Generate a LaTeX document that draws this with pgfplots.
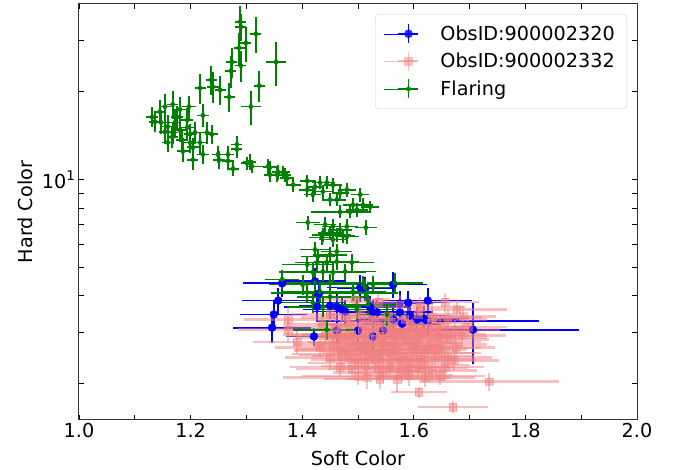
\documentclass[border=0pt]{standalone}
\usepackage{pgfplots}
\pgfplotsset{compat=1.18}
\usepackage{pgfplotstable}
\usepackage{fontspec}
\setmainfont{DejaVu Sans}
\definecolor{lightcoral}{RGB}{240,128,128}
\definecolor{mplgreen}{RGB}{0,128,0}
\definecolor{mplblue}{RGB}{0,0,255}

% ObsID 900002320
\pgfplotstableread{
x y ex ey
1.364 4.41 0.070 0.45
1.357 3.85 0.065 0.40
1.349 3.45 0.060 0.40
1.346 3.11 0.070 0.35
1.421 2.90 0.050 0.20
1.430 4.07 0.060 0.45
1.423 4.48 0.055 0.50
1.427 3.67 0.060 0.40
1.450 3.70 0.055 0.35
1.462 3.67 0.060 0.40
1.471 3.59 0.070 0.35
1.477 3.53 0.060 0.35
1.500 3.04 0.060 0.30
1.462 3.04 0.050 0.30
1.504 4.27 0.060 0.45
1.522 3.65 0.070 0.35
1.527 3.51 0.060 0.35
1.534 3.51 0.055 0.35
1.563 4.37 0.060 0.45
1.575 3.76 0.060 0.40
1.590 3.79 0.070 0.35
1.625 3.85 0.080 0.40
1.593 3.42 0.065 0.35
1.618 3.34 0.080 0.35
1.625 3.27 0.200 0.35
1.706 3.06 0.190 0.72
1.545 3.04 0.060 0.30
1.575 3.51 0.060 0.35
1.563 3.32 0.065 0.35
1.579 3.21 0.070 0.30
1.606 3.32 0.075 0.35
1.527 2.90 0.060 0.30
1.513 4.24 0.050 0.40
}\tblue

% ObsID 900002332
\pgfplotstableread{
x y ex ey
1.495 3.88 0.06 0.30
1.536 3.80 0.07 0.30
1.575 3.73 0.06 0.28
1.611 3.66 0.08 0.30
1.656 3.80 0.06 0.30
1.677 3.59 0.09 0.30
1.375 3.32 0.08 0.30
1.450 3.45 0.07 0.28
1.477 3.37 0.08 0.28
1.504 3.45 0.06 0.30
1.525 3.32 0.07 0.28
1.554 3.40 0.08 0.28
1.584 3.32 0.06 0.25
1.608 3.45 0.07 0.30
1.633 3.37 0.09 0.28
1.661 3.32 0.07 0.28
1.688 3.40 0.06 0.30
1.375 3.06 0.09 0.28
1.435 3.19 0.07 0.25
1.459 3.12 0.08 0.25
1.486 3.19 0.06 0.25
1.507 3.06 0.09 0.25
1.536 3.15 0.07 0.25
1.561 3.06 0.08 0.25
1.593 3.19 0.07 0.25
1.620 3.10 0.09 0.25
1.647 3.15 0.06 0.25
1.674 3.06 0.08 0.25
1.697 3.12 0.07 0.28
1.391 2.77 0.08 0.25
1.441 2.92 0.07 0.22
1.468 2.88 0.08 0.22
1.489 2.95 0.09 0.22
1.513 2.83 0.07 0.22
1.539 2.92 0.08 0.22
1.566 2.88 0.10 0.22
1.590 2.83 0.07 0.22
1.615 2.95 0.08 0.22
1.642 2.88 0.09 0.22
1.665 2.83 0.07 0.22
1.686 2.92 0.08 0.25
1.432 2.66 0.08 0.20
1.455 2.72 0.07 0.20
1.477 2.62 0.09 0.20
1.500 2.72 0.08 0.20
1.522 2.66 0.10 0.20
1.548 2.72 0.07 0.20
1.572 2.62 0.08 0.20
1.597 2.69 0.09 0.20
1.625 2.62 0.07 0.20
1.651 2.72 0.08 0.20
1.676 2.66 0.07 0.22
1.450 2.46 0.08 0.20
1.471 2.52 0.09 0.20
1.495 2.42 0.08 0.18
1.518 2.49 0.10 0.20
1.539 2.42 0.08 0.18
1.561 2.52 0.09 0.20
1.584 2.46 0.08 0.18
1.611 2.42 0.10 0.20
1.638 2.49 0.07 0.18
1.661 2.46 0.08 0.20
1.468 2.28 0.09 0.18
1.489 2.24 0.10 0.18
1.513 2.30 0.08 0.18
1.536 2.24 0.09 0.18
1.557 2.28 0.10 0.18
1.579 2.20 0.08 0.18
1.608 2.26 0.09 0.18
1.633 2.22 0.08 0.18
1.656 2.28 0.07 0.18
1.500 2.12 0.10 0.15
1.516 2.10 0.15 0.18
1.539 2.07 0.10 0.15
1.570 2.07 0.09 0.20
1.591 2.14 0.08 0.18
1.620 2.10 0.09 0.15
1.647 2.12 0.08 0.15
1.609 1.87 0.05 0.08
1.670 1.66 0.063 0.08
1.735 2.03 0.125 0.15
1.520 3.00 0.08 0.22
1.545 2.78 0.09 0.22
1.580 3.00 0.07 0.22
1.600 2.58 0.08 0.20
1.630 2.78 0.09 0.22
1.490 2.78 0.08 0.22
1.470 3.05 0.07 0.25
1.555 2.55 0.08 0.20
1.525 2.55 0.09 0.20
1.610 3.02 0.08 0.25
1.650 2.55 0.07 0.20
1.560 3.25 0.08 0.25
1.500 2.35 0.09 0.18
1.595 2.35 0.08 0.18
1.645 3.00 0.07 0.22
1.465 2.60 0.08 0.20
1.485 2.50 0.09 0.20
1.505 2.60 0.07 0.20
1.530 2.85 0.08 0.22
1.550 3.05 0.09 0.25
1.565 2.70 0.08 0.22
1.585 2.90 0.09 0.22
1.605 2.75 0.08 0.22
1.620 2.55 0.09 0.20
1.640 2.65 0.08 0.20
1.660 2.95 0.07 0.22
1.672 2.40 0.08 0.20
1.530 2.40 0.09 0.18
1.575 2.40 0.10 0.18
1.620 2.32 0.08 0.18
1.545 2.18 0.09 0.16
1.590 2.28 0.08 0.18
1.480 2.90 0.07 0.22
1.512 3.20 0.08 0.25
1.600 3.10 0.09 0.25
1.630 3.22 0.08 0.25
1.455 2.95 0.09 0.22
1.540 2.60 0.08 0.20
1.515 2.75 0.09 0.22
1.568 2.95 0.08 0.22
}\tpink

% Flaring
\pgfplotstableread{
x y ex ey
1.289 34.8 0.010 4.5
1.290 33.4 0.010 3.5
1.317 31.6 0.010 4.5
1.299 29.4 0.010 4.0
1.287 28.3 0.010 3.5
1.353 25.3 0.018 4.4
1.274 25.3 0.010 3.0
1.290 24.6 0.010 3.0
1.272 23.6 0.010 3.0
1.237 22.0 0.010 2.5
1.240 20.8 0.010 2.5
1.253 20.3 0.010 2.3
1.217 20.6 0.010 2.5
1.269 19.2 0.010 2.2
1.323 21.0 0.010 2.5
1.308 17.8 0.018 2.4
1.131 16.4 0.011 1.3
1.136 15.8 0.010 1.2
1.154 17.8 0.010 1.9
1.168 18.1 0.010 2.0
1.181 17.4 0.011 1.8
1.197 17.8 0.012 1.6
1.222 16.6 0.011 1.5
1.147 15.7 0.010 1.4
1.159 15.2 0.011 1.5
1.172 15.7 0.010 1.6
1.181 14.8 0.011 1.3
1.194 15.1 0.012 1.5
1.208 14.5 0.011 1.3
1.229 14.5 0.012 1.2
1.238 14.3 0.011 1.1
1.167 14.0 0.010 1.2
1.159 13.4 0.010 1.0
1.185 13.7 0.011 1.2
1.199 13.4 0.011 1.1
1.217 13.4 0.012 1.2
1.186 12.5 0.011 1.0
1.204 12.9 0.011 1.0
1.222 12.2 0.011 0.9
1.204 11.7 0.010 0.9
1.249 12.2 0.011 0.8
1.251 11.7 0.010 0.8
1.267 12.2 0.011 0.8
1.267 11.6 0.011 0.8
1.283 13.2 0.010 0.9
1.283 12.7 0.010 0.8
1.276 10.9 0.010 0.6
1.306 11.5 0.012 0.7
1.310 11.1 0.011 0.6
1.301 11.4 0.011 0.6
1.339 11.1 0.018 0.7
1.342 10.4 0.011 0.6
1.355 10.4 0.011 0.6
1.369 10.4 0.011 0.6
1.373 10.1 0.012 0.5
1.384 9.6 0.013 0.5
1.176 16.4 0.011 1.5
1.194 16.0 0.011 1.6
1.168 14.5 0.010 1.3
1.199 14.3 0.011 1.2
1.154 14.6 0.011 1.3
1.145 17.1 0.010 1.6
1.342 11.0 0.012 0.6
1.357 10.6 0.012 0.6
1.366 10.6 0.012 0.5
1.409 9.9 0.013 0.5
1.409 9.24 0.014 0.5
1.423 9.46 0.015 0.5
1.432 9.77 0.015 0.5
1.444 9.77 0.015 0.5
1.455 9.6 0.016 0.5
1.419 8.89 0.015 0.5
1.437 9.1 0.016 0.5
1.450 8.54 0.015 0.45
1.462 8.54 0.016 0.45
1.480 9.24 0.016 0.5
1.468 9.0 0.015 0.5
1.504 8.89 0.016 0.5
1.491 8.2 0.018 0.45
1.509 8.2 0.017 0.45
1.522 8.08 0.016 0.4
1.468 7.76 0.052 0.4
1.486 7.76 0.025 0.4
1.498 7.89 0.020 0.45
1.410 7.13 0.022 0.4
1.441 7.02 0.020 0.4
1.455 6.91 0.020 0.4
1.468 6.74 0.022 0.35
1.480 6.91 0.020 0.4
1.450 6.58 0.022 0.35
1.462 6.48 0.025 0.35
1.473 6.43 0.022 0.35
1.437 6.48 0.020 0.35
1.514 6.85 0.020 0.4
1.435 6.33 0.022 0.35
1.455 6.23 0.025 0.35
1.480 6.38 0.022 0.35
1.423 5.76 0.027 0.35
1.428 5.45 0.030 0.35
1.450 5.53 0.030 0.35
1.462 5.67 0.028 0.35
1.462 5.24 0.040 0.35
1.409 5.12 0.045 0.35
1.427 5.20 0.040 0.35
1.444 5.20 0.050 0.35
1.489 5.20 0.040 0.35
1.419 4.81 0.060 0.35
1.437 4.84 0.050 0.35
1.455 4.81 0.060 0.35
1.477 4.84 0.055 0.30
1.401 4.37 0.060 0.35
1.423 4.43 0.065 0.35
1.450 4.43 0.060 0.30
1.509 4.37 0.055 0.30
1.527 4.37 0.060 0.30
1.566 4.43 0.050 0.35
1.409 4.10 0.065 0.30
1.432 4.13 0.070 0.35
1.450 3.97 0.060 0.30
1.491 4.13 0.060 0.30
1.516 4.10 0.055 0.30
1.419 3.79 0.060 0.30
1.437 3.67 0.065 0.30
1.498 3.59 0.070 0.30
1.518 3.73 0.055 0.30
1.552 3.45 0.050 0.30
1.444 3.06 0.060 0.25
1.364 4.55 0.030 0.35
1.513 4.27 0.050 0.30
}\tgreen

\begin{document}
\begin{tikzpicture}
\useasboundingbox (-79bp,-50bp) rectangle (603bp,420bp);
\begin{axis}[
  at={(0,0)}, anchor=south west,
  scale only axis, width=558bp, height=416bp,
  xmin=1, xmax=2, ymode=log, ymin=1.5, ymax=40,
  xtick={1,1.2,1.4,1.6,1.8,2},
  minor xtick={1.1,1.3,1.5,1.7,1.9},
  x tick label style={/pgf/number format/.cd, fixed, fixed zerofill, precision=1, /tikz/.cd},
  /pgf/number format/assume math mode=true,
  ytick={10}, yticklabels={10\textsuperscript{1}},
  minor ytick={2,3,4,5,6,7,8,9,20,30},
  tick align=inside,
  major tick length=5.5bp, minor tick length=5bp,
  every tick/.style={black, line width=0.8bp},
  axis line style={black!80, line width=1bp},
  tick label style={font=\fontsize{19.3}{23}\selectfont},
  label style={font=\fontsize{19.3}{23}\selectfont},
  xlabel={Soft Color}, ylabel={Hard Color},
  xlabel style={at={(axis description cs:0.5,-0.0913)}, anchor=center},
  ylabel style={at={(axis description cs:-0.0968,0.5)}, anchor=center},
  legend cell align=left,
  legend style={at={(1,1)}, anchor=north east, xshift=-10bp, yshift=-10bp,
    draw=black!20, rounded corners=3bp, fill=white, fill opacity=0.8, text opacity=1,
    font=\fontsize{19.3}{23}\selectfont, row sep=5.5bp, inner xsep=9bp, inner ysep=8.5bp,
    nodes={inner sep=3bp},
    /tikz/every odd column/.append style={column sep=18bp}},
  legend image code/.code={
    \path (-14bp,0bp) -- (20bp,0bp);
    \draw[#1, mark=none, line width=1.8bp] (0bp,0bp) -- (20bp,0bp);
    \draw[#1, mark=none, line width=1.8bp] (10bp,-9.5bp) -- (10bp,9.5bp);
    \draw[#1] plot coordinates {(10bp,0bp)};
  },
]
% blue series: x bars, y bars, marks
\addplot[forget plot, draw=none, mark=none,
  error bars/.cd, x dir=both, x explicit, error mark=none,
  error bar style={line width=1.8bp, draw=mplblue}]
  table[x=x, y=y, x error=ex] {\tblue};
\addplot[forget plot, draw=none, mark=none,
  error bars/.cd, y dir=both, y explicit, error mark=none,
  error bar style={line width=1.8bp, draw=mplblue}]
  table[x=x, y=y, y error=ey] {\tblue};
\addplot[only marks, mark=*, mark size=4bp, color=mplblue]
  table[x=x, y=y] {\tblue};
\addlegendentry{ObsID:900002320}
% pink series
\addplot[forget plot, draw=none, mark=none,
  error bars/.cd, x dir=both, x explicit, error mark=none,
  error bar style={line width=2.4bp, draw=lightcoral, draw opacity=0.5}]
  table[x=x, y=y, x error=ex] {\tpink};
\addplot[forget plot, draw=none, mark=none,
  error bars/.cd, y dir=both, y explicit, error mark=none,
  error bar style={line width=2.4bp, draw=lightcoral, draw opacity=0.5}]
  table[x=x, y=y, y error=ey] {\tpink};
\addplot[only marks, mark=square*, mark size=3.8bp, color=lightcoral, opacity=0.5]
  table[x=x, y=y] {\tpink};
\addlegendentry{ObsID:900002332}
% flaring series
\addplot[forget plot, draw=none, mark=none,
  error bars/.cd, x dir=both, x explicit, error mark=none,
  error bar style={line width=1.8bp, draw=mplgreen}]
  table[x=x, y=y, x error=ex] {\tgreen};
\addplot[forget plot, draw=none, mark=none,
  error bars/.cd, y dir=both, y explicit, error mark=none,
  error bar style={line width=1.8bp, draw=mplgreen}]
  table[x=x, y=y, y error=ey] {\tgreen};
\addplot[only marks, mark=*, mark size=2.2bp, color=mplgreen]
  table[x=x, y=y] {\tgreen};
\addlegendentry{Flaring}
\end{axis}
\end{tikzpicture}
\end{document}
